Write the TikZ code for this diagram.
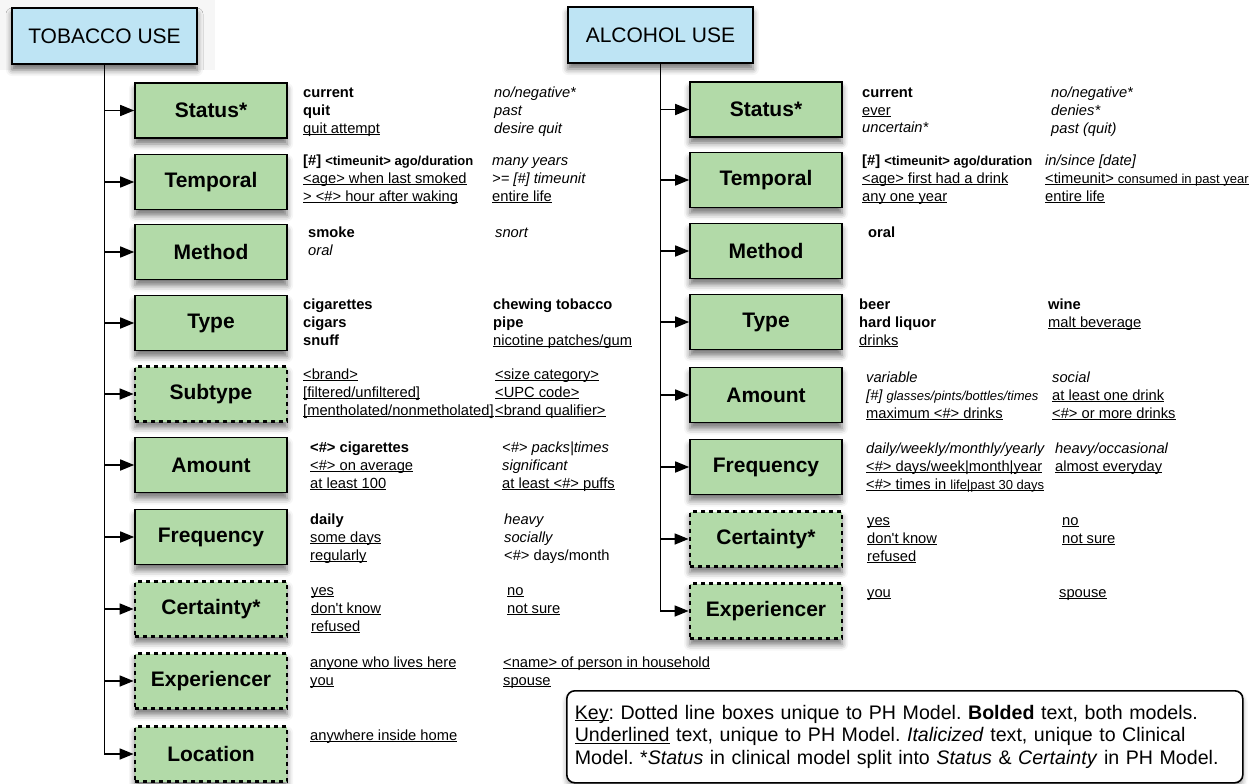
\documentclass[tikz,border=0pt]{standalone}
\usepackage{fontspec}
\setmainfont{Liberation Sans}
\usetikzlibrary{arrows.meta,shadows.blur}

\definecolor{catgreen}{RGB}{178,218,168}
\definecolor{topblue}{RGB}{190,228,244}

% underlined text, rule close to the baseline
\newcommand{\undl}[1]{\leavevmode\setbox0\hbox{#1}\rlap{\rule[-1.9pt]{\wd0}{0.9pt}}\box0{}}
% smaller text inside a line
\newcommand{\sm}[1]{{\fontsize{13}{18}\selectfont #1}}
% value lists, baseline on the first line
\newcommand{\vals}[1]{\begin{tabular}[t]{@{}l@{}}#1\end{tabular}}

\tikzset{
    topbox/.style={draw, line width=1.6pt, fill=topblue, minimum width=185pt, minimum height=56pt,
        font=\fontsize{21}{25}\selectfont,
        blur shadow={shadow xshift=0pt, shadow yshift=-6pt, shadow blur radius=6pt, shadow opacity=55}},
    catbox/.style={draw, line width=1.6pt, fill=catgreen, minimum width=152pt, minimum height=55pt,
        inner sep=0pt, font=\bfseries\fontsize{21}{25}\selectfont,
        blur shadow={shadow xshift=0pt, shadow yshift=-6pt, shadow blur radius=6pt, shadow opacity=55}},
    catdash/.style={catbox, line width=2.8pt, dash pattern=on 4pt off 4pt},
    txt/.style={anchor=base west, inner sep=0pt, font=\fontsize{14.7}{18}\selectfont},
    arr/.style={line width=1.6pt, -{Triangle[length=14pt,width=11pt]}},
    keybox/.style={draw, line width=1.6pt, fill=white, rounded corners=8pt, anchor=north west,
        text width=660pt, minimum height=92pt, align=left, inner xsep=8pt,
        font=\frenchspacing\fontsize{19.6}{22.5}\selectfont,
        blur shadow={shadow xshift=0pt, shadow yshift=-4pt, shadow blur radius=5pt, shadow opacity=40}}
}

\begin{document}
\begin{tikzpicture}[x=1pt, y=-1pt]
    \useasboundingbox (0,0) rectangle (1254,784);
    \fill[gray!7] (0,0) rectangle (215,70);

    % Draw nodes: tobacco
    \node[topbox] (tob) at (104.5,36) {TOBACCO USE};
    \node[catbox] (tStat) at (211,110.5) {Status*};
    \node[catbox] (tTemp) at (211,182) {Temporal};
    \node[catbox] (tMeth) at (211,252) {Method};
    \node[catbox] (tType) at (211,323) {Type};
    \node[catdash] (tSub) at (211,394) {Subtype};
    \node[catbox] (tAmt) at (211,465) {Amount};
    \node[catbox] (tFreq) at (211,537) {Frequency};
    \node[catdash] (tCert) at (211,609) {Certainty*};
    \node[catdash] (tExp) at (211,681) {Experiencer};
    \node[catdash] (tLoc) at (211,754) {Location};

    % Draw nodes: alcohol
    \node[topbox] (alc) at (660.5,35) {ALCOHOL USE};
    \node[catbox] (aStat) at (766,109.5) {Status*};
    \node[catbox] (aTemp) at (766,180) {Temporal};
    \node[catbox] (aMeth) at (766,251) {Method};
    \node[catbox] (aType) at (766,322) {Type};
    \node[catbox] (aAmt) at (766,395) {Amount};
    \node[catbox] (aFreq) at (766,467) {Frequency};
    \node[catdash] (aCert) at (766,539) {Certainty*};
    \node[catdash] (aExp) at (766,611) {Experiencer};

    % Draw connections
    \draw[arr] (tob.south) |- (tLoc.west);
    \draw[arr] (tob.south |- tStat.west) -- (tStat.west);
    \draw[arr] (tob.south |- tTemp.west) -- (tTemp.west);
    \draw[arr] (tob.south |- tMeth.west) -- (tMeth.west);
    \draw[arr] (tob.south |- tType.west) -- (tType.west);
    \draw[arr] (tob.south |- tSub.west) -- (tSub.west);
    \draw[arr] (tob.south |- tAmt.west) -- (tAmt.west);
    \draw[arr] (tob.south |- tFreq.west) -- (tFreq.west);
    \draw[arr] (tob.south |- tCert.west) -- (tCert.west);
    \draw[arr] (tob.south |- tExp.west) -- (tExp.west);

    \draw[arr] (alc.south) |- (aExp.west);
    \draw[arr] (alc.south |- aStat.west) -- (aStat.west);
    \draw[arr] (alc.south |- aTemp.west) -- (aTemp.west);
    \draw[arr] (alc.south |- aMeth.west) -- (aMeth.west);
    \draw[arr] (alc.south |- aType.west) -- (aType.west);
    \draw[arr] (alc.south |- aAmt.west) -- (aAmt.west);
    \draw[arr] (alc.south |- aFreq.west) -- (aFreq.west);
    \draw[arr] (alc.south |- aCert.west) -- (aCert.west);

    % Values: tobacco
    \node[txt] (tStat1) at (303,97) {\vals{\textbf{current}\\\textbf{quit}\\\undl{quit attempt}}};
    \node[txt] (tStat2) at (494,97) {\vals{\textit{no/negative*}\\\textit{past}\\\textit{desire quit}}};
    \node[txt] (tTemp1) at (303,165) {\vals{\textbf{[\#] \sm{<timeunit> ago/duration}}\\\undl{<age> when last smoked}\\\undl{> <\#> hour after waking}}};
    \node[txt] (tTemp2) at (492,165) {\vals{\textit{many years}\\\textit{>= [\#] timeunit}\\\undl{entire life}}};
    \node[txt] (tMeth1) at (308,237) {\vals{\textbf{smoke}\\\textit{oral}}};
    \node[txt] (tMeth2) at (495,237) {\vals{\textit{snort}}};
    \node[txt] (tType1) at (303,309) {\vals{\textbf{cigarettes}\\\textbf{cigars}\\\textbf{snuff}}};
    \node[txt] (tType2) at (493,309) {\vals{\textbf{chewing tobacco}\\\textbf{pipe}\\\undl{nicotine patches/gum}}};
    \node[txt] (tSub1) at (303,379) {\vals{\undl{<brand>}\\\undl{[filtered/unfiltered]}\\\undl{[mentholated/nonmetholated]}}};
    \node[txt] (tSub2) at (495,379) {\vals{\undl{<size category>}\\\undl{<UPC code>}\\\undl{<brand qualifier>}}};
    \node[txt] (tAmt1) at (310,452) {\vals{\textbf{<\#> cigarettes}\\\undl{<\#> on average}\\\undl{at least 100}}};
    \node[txt] (tAmt2) at (502,452) {\vals{\textit{<\#> packs|times}\\\textit{significant}\\\undl{at least <\#> puffs}}};
    \node[txt] (tFreq1) at (310,524) {\vals{\textbf{daily}\\\undl{some days}\\\undl{regularly}}};
    \node[txt] (tFreq2) at (504,524) {\vals{\textit{heavy}\\\textit{socially}\\<\#> days/month}};
    \node[txt] (tCert1) at (311,595) {\vals{\undl{yes}\\\undl{don\textquotesingle t know}\\\undl{refused}}};
    \node[txt] (tCert2) at (507,595) {\vals{\undl{no}\\\undl{not sure}}};
    \node[txt] (tExp1) at (310,667) {\vals{\undl{anyone who lives here}\\\undl{you}}};
    \node[txt] (tExp2) at (503,667) {\vals{\undl{<name> of person in household}\\\undl{spouse}}};
    \node[txt] (tLoc1) at (310,740) {\vals{\undl{anywhere inside home}}};

    % Values: alcohol
    \node[txt] (aStat1) at (862,97) {\vals{\textbf{current}\\\undl{ever}\\\textit{uncertain*}}};
    \node[txt] (aStat2) at (1051,97) {\vals{\textit{no/negative*}\\\textit{denies*}\\\textit{past (quit)}}};
    \node[txt] (aTemp1) at (862,165) {\vals{\textbf{[\#] \sm{<timeunit> ago/duration}}\\\undl{<age> first had a drink}\\\undl{any one year}}};
    \node[txt] (aTemp2) at (1045,165) {\vals{\textit{in/since [date]}\\\undl{<timeunit> \sm{consumed in past year}}\\\undl{entire life}}};
    \node[txt] (aMeth1) at (868,237) {\vals{\textbf{oral}}};
    \node[txt] (aType1) at (859,309) {\vals{\textbf{beer}\\\textbf{hard liquor}\\\undl{drinks}}};
    \node[txt] (aType2) at (1048,309) {\vals{\textbf{wine}\\\undl{malt beverage}}};
    \node[txt] (aAmt1) at (866,382) {\vals{\textit{variable}\\\textit{[\#] \sm{glasses/pints/bottles/times}}\\\undl{maximum <\#> drinks}}};
    \node[txt] (aAmt2) at (1052,382) {\vals{\textit{social}\\\undl{at least one drink}\\\undl{<\#> or more drinks}}};
    \node[txt] (aFreq1) at (866,453) {\vals{\textit{daily/weekly/monthly/yearly}\\\undl{<\#> days/week|month|year}\\\undl{<\#> times in \sm{life|past 30 days}}}};
    \node[txt] (aFreq2) at (1055,453) {\vals{\textit{heavy/occasional}\\\undl{almost everyday}}};
    \node[txt] (aCert1) at (867,525) {\vals{\undl{yes}\\\undl{don\textquotesingle t know}\\\undl{refused}}};
    \node[txt] (aCert2) at (1062,525) {\vals{\undl{no}\\\undl{not sure}}};
    \node[txt] (aExp1) at (867,597) {\vals{\undl{you}}};
    \node[txt] (aExp2) at (1059,597) {\vals{\undl{spouse}}};

    % Key
    \node[keybox] (key) at (566,690) {\mbox{\undl{Key}: Dotted line boxes unique to PH Model. \textbf{Bolded} text, both models.}\\
        \mbox{\undl{Underlined} text, unique to PH Model. \textit{Italicized} text, unique to Clinical}\\
        \mbox{Model. *\textit{Status} in clinical model split into \textit{Status} \& \textit{Certainty} in PH Model.}};
\end{tikzpicture}
\end{document}
